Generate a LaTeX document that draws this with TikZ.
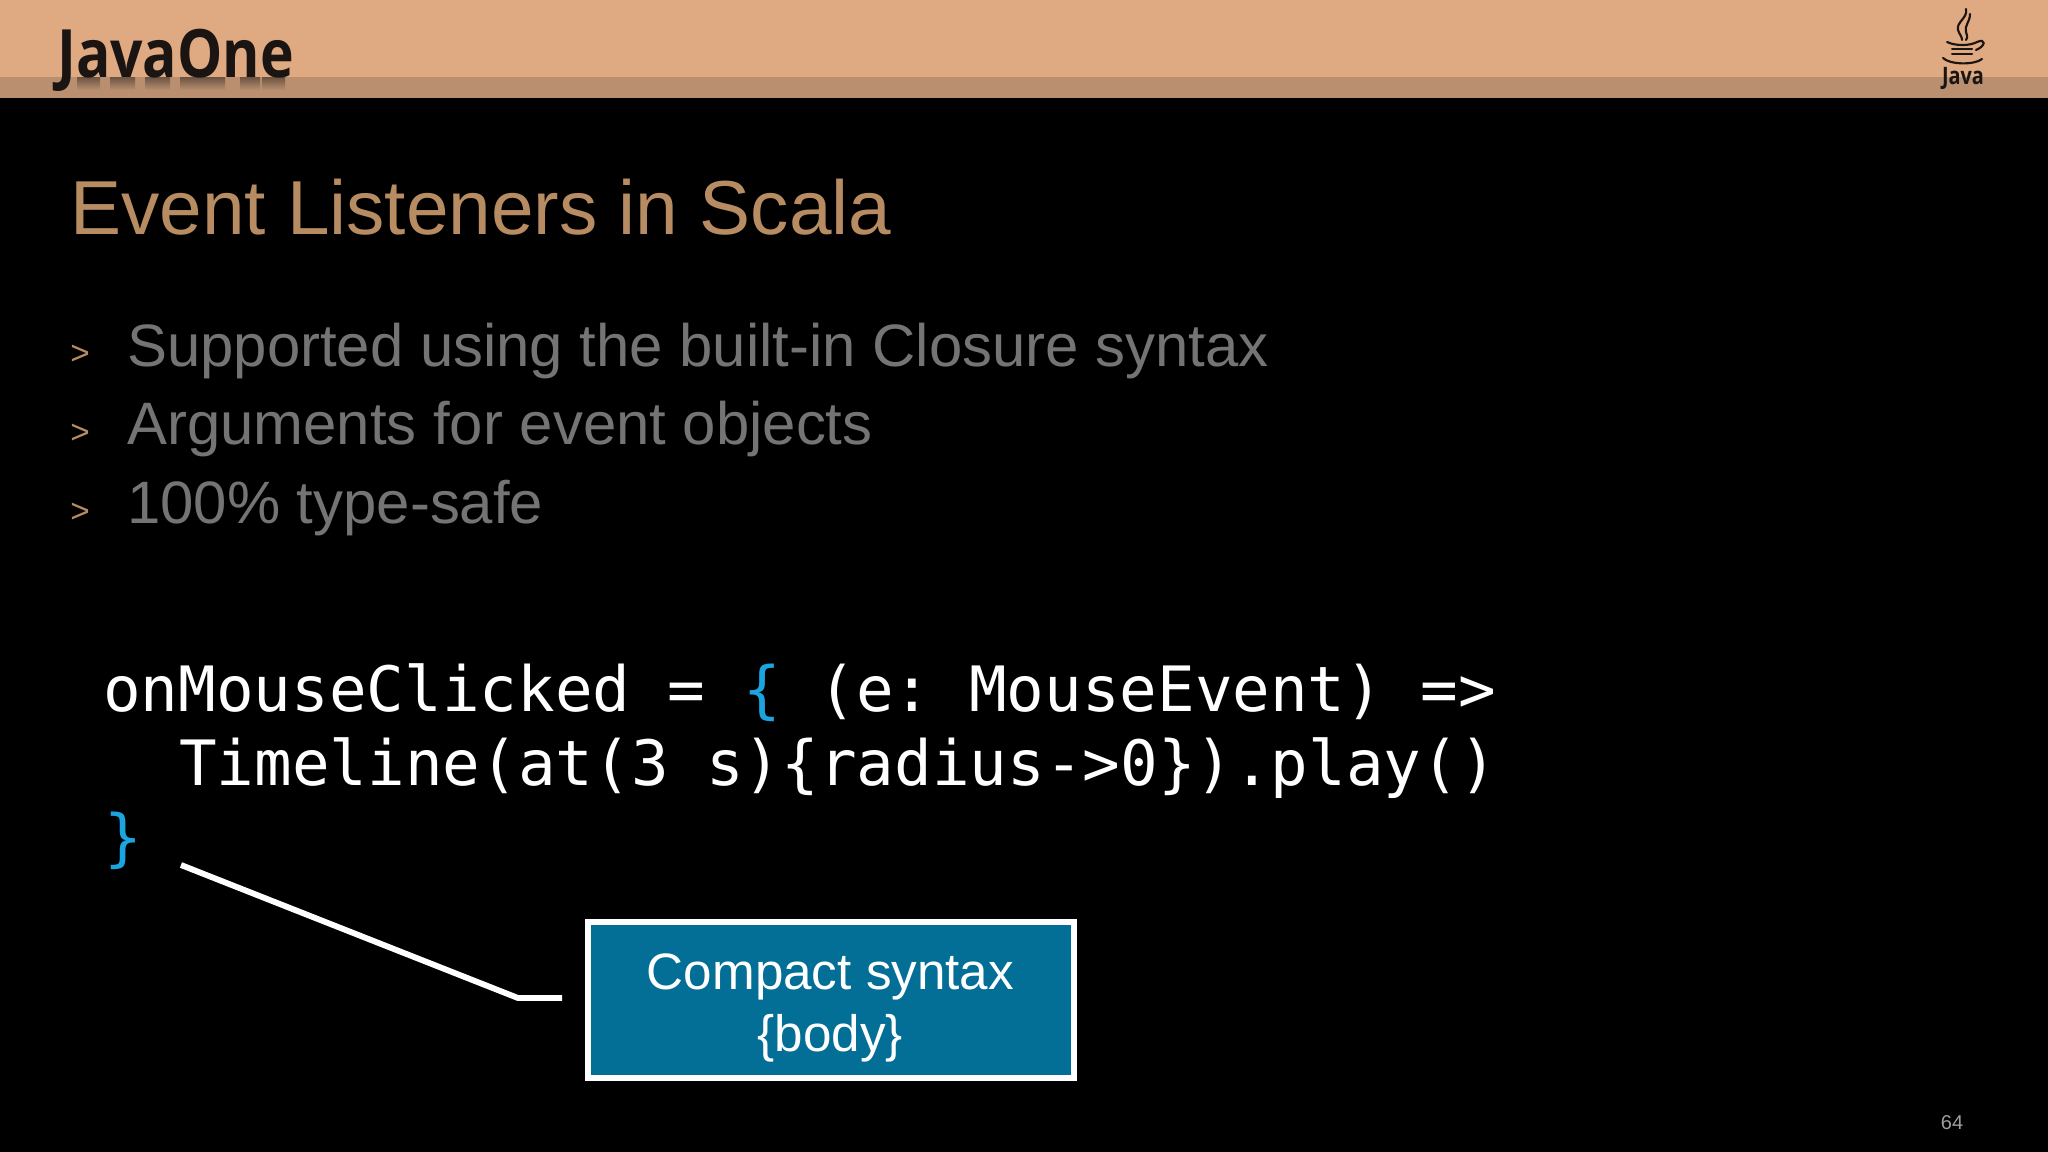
\documentclass[tikz,border=0pt]{standalone}
\usepackage{fontspec}
\setmainfont{Liberation Sans}
\newfontfamily\codefont{DejaVu Sans Mono}
\newfontfamily\logofont{Open Sans}
\usetikzlibrary{positioning}
\definecolor{headerTan}{HTML}{DFA981}
\definecolor{stripTan}{HTML}{B98F6F}
\definecolor{titleTan}{HTML}{B78C62}
\definecolor{bulletGrey}{HTML}{747474}
\definecolor{braceBlue}{HTML}{1BA5E0}
\definecolor{boxBlue}{HTML}{036F96}
\definecolor{logoDark}{HTML}{1A1512}
\tikzset{
    bodyline/.style={anchor=north west, inner sep=0pt, text height=45pt, text depth=13.5pt, text=bulletGrey, font=\fontsize{44.9}{50}\selectfont},
    bulletmark/.style={anchor=base west, inner sep=0pt, text=titleTan, font=\fontsize{25}{30}\selectfont},
    codeline/.style={anchor=north west, inner sep=0pt, text height=42pt, text depth=13.5pt, text=white, font=\codefont\fontsize{46.9}{56}\selectfont},
    callout/.style={draw=white, line width=4.5pt, fill=boxBlue, inner sep=0pt, minimum width=364.5pt, minimum height=117pt},
    calloutlabel/.style={text=white, align=center, inner sep=0pt, font=\fontsize{38.4}{46.5}\selectfont},
    cupline/.style={draw=logoDark, line width=1.6pt, line cap=round}
}
\frenchspacing
\begin{document}
\begin{tikzpicture}[x=.75pt, y=-.75pt]
\useasboundingbox (0,0) rectangle (2048,1152);
\fill[black] (0,0) rectangle (2048,1152);
\fill[headerTan] (0,0) rectangle (2048,77);
\fill[stripTan] (0,77) rectangle (2048,98);

% logo
\foreach \x/\w in {77/23,110/25,145/25,180/45,240/20,262/23}
    \shade[top color=logoDark!45!stripTan, bottom color=stripTan] (\x,78) rectangle (\x+\w,90);
\node[anchor=base west, inner sep=0pt, text=logoDark] (logo) at (57,78) {\logofont\fontsize{50}{60}\selectfont\bfseries\scalebox{.855}[1]{JavaOne}};

% java cup
\draw[cupline] (1966,9) .. controls (1968,18) and (1956,22) .. (1958,30) .. controls (1959,34) and (1962,36) .. (1962,40);
\draw[cupline] (1970,14) .. controls (1970,22) and (1964,26) .. (1966,32) .. controls (1967,35) and (1968,37) .. (1966,40);
\draw[cupline] (1947,42) .. controls (1955,46) and (1970,46) .. (1977,42) .. controls (1986,38) and (1986,46) .. (1976,50);
\draw[cupline] (1952,49) -- (1972,49);
\draw[cupline] (1952,54) -- (1972,54);
\draw[cupline] (1943,58) .. controls (1950,65) and (1975,65) .. (1982,59);
\node[anchor=base, inner sep=0pt, text=logoDark] (javaword) at (1963,85) {\logofont\fontsize{18}{20}\selectfont\bfseries\scalebox{.83}[1]{Java}};

\node[anchor=base west, inner sep=0pt, text=titleTan, font=\fontsize{57.4}{68}\selectfont] (title) at (70,234) {Event Listeners in Scala};

\node[bodyline] (b1) at (127,306) {Supported using the built-in Closure syntax};
\node[bodyline, below=0mm of b1.south west, anchor=north west] (b2) {Arguments for event objects};
\node[bodyline, below=0mm of b2.south west, anchor=north west] (b3) {100\% type-safe};
\node[bulletmark] (m1) at (70,364) {>};
\node[bulletmark] (m2) at (70,443) {>};
\node[bulletmark] (m3) at (70,522) {>};

\node[codeline] (c1) at (103,655) {onMouseClicked = \textcolor{braceBlue}{\{} (e: MouseEvent) =>};
\node[codeline, anchor=north west] (c2) at (179,729) {Timeline(at(3 s)\{radius->0\}).play()};
\node[codeline, anchor=north west, text=braceBlue] (c3) at (104,803) {\}};

\node[callout] (compact) at (830.5,1000) {};
\node[calloutlabel, yshift=-5.6pt] (compacttext) at (compact.center) {Compact syntax\\\{body\}};
\coordinate (tailstart) at (181,865);
\coordinate (tailbend) at (518,998);
\coordinate (tailend) at (562,998);
\draw[white, line width=4.4pt] (tailstart) -- (tailbend) -- (tailend);

\node[anchor=base, inner sep=0pt, text=white!62!black, font=\fontsize{15}{18}\selectfont] (pageno) at (1952,1129) {64};
\end{tikzpicture}
\end{document}
